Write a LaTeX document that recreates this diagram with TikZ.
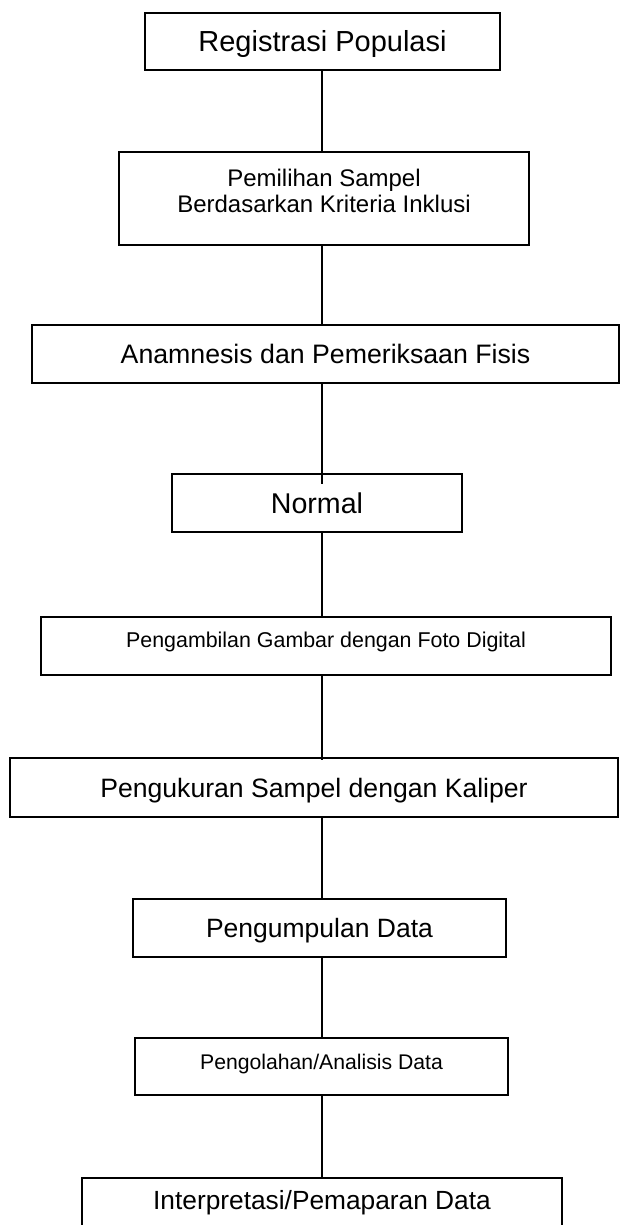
\documentclass[tikz,border=0pt]{standalone}
\usepackage{fontspec}
\setmainfont{Liberation Sans}
\begin{document}
\begin{tikzpicture}[x=1pt,y=-1pt,
  box/.style={draw, line width=1.8pt, inner sep=0pt, anchor=center},
  link/.style={line width=1.3pt}]
\useasboundingbox (0,0) rectangle (620,1225);
\fill[white] (0,0) rectangle (620,1225);
\node[box, minimum width=355pt, minimum height=57pt, font=\fontsize{29}{33}\selectfont, text height=20.8pt, text depth=0pt] (b1) at (322.5,41.5) {Registrasi Populasi};
\node[box, minimum width=410pt, minimum height=93pt, align=center, font=\fontsize{24}{26}\selectfont] (b2) at (324,198.5) {Pemilihan Sampel\\Berdasarkan Kriteria Inklusi\\[-10pt]\mbox{}};
\node[box, minimum width=587pt, minimum height=58pt, font=\fontsize{26.7}{30}\selectfont, text height=19.1pt, text depth=0pt] (b3) at (325.5,354) {Anamnesis dan Pemeriksaan Fisis};
\node[box, minimum width=290pt, minimum height=58pt, font=\fontsize{28.6}{32}\selectfont, text height=20.5pt, text depth=0pt] (b4) at (317,503) {Normal};
\node[box, minimum width=570pt, minimum height=58pt, font=\fontsize{21.4}{24}\selectfont, text height=15.3pt, text depth=12pt] (b5) at (326,646) {Pengambilan Gambar dengan Foto Digital};
\node[box, minimum width=608pt, minimum height=59pt, font=\fontsize{26.6}{30}\selectfont, text height=19pt, text depth=0pt] (b6) at (314,787.5) {Pengukuran Sampel dengan Kaliper};
\node[box, minimum width=373pt, minimum height=58pt, font=\fontsize{26.5}{30}\selectfont, text height=19pt, text depth=0pt] (b7) at (319.5,928) {Pengumpulan Data};
\node[box, minimum width=373pt, minimum height=57pt, font=\fontsize{21.2}{24}\selectfont, text height=15.2pt, text depth=10pt] (b8) at (321.5,1066.5) {Pengolahan/Analisis Data};
\node[box, minimum width=480pt, minimum height=62pt, font=\fontsize{26.3}{30}\selectfont, text height=18.8pt, text depth=18pt] (b9) at (322,1209) {Interpretasi/Pemaparan Data};
\coordinate (lx) at (322,0);
\draw[link] (b1.south -| lx) -- (b2.north -| lx);
\draw[link] (b2.south -| lx) -- (b3.north -| lx);
\draw[link] (b3.south -| lx) -- ([yshift=-11pt]b4.north -| lx);
\draw[link] (b4.south -| lx) -- (b5.north -| lx);
\draw[link] (b5.south -| lx) -- ([yshift=-3pt]b6.north -| lx);
\draw[link] (b6.south -| lx) -- (b7.north -| lx);
\draw[link] (b7.south -| lx) -- (b8.north -| lx);
\draw[link] (b8.south -| lx) -- (b9.north -| lx);
\end{tikzpicture}
\end{document}
